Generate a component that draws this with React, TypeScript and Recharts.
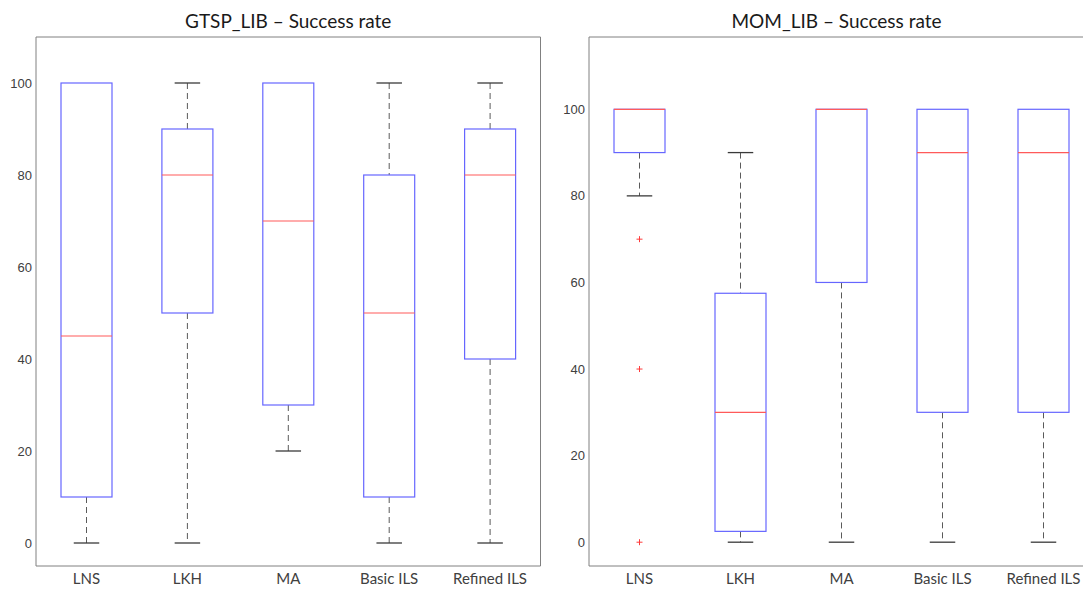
import React from "react";
import { ComposedChart, Bar, Scatter, XAxis, YAxis } from "recharts";

const algorithms = ["LNS", "LKH", "MA", "Basic ILS", "Refined ILS"];
const yTicks = [0, 20, 40, 60, 80, 100];

// GTSP_LIB success rate (%)
const gtspMin = [0, 0, 20, 0, 0];
const gtspQ1 = [10, 50, 30, 10, 40];
const gtspMedian = [45, 80, 70, 50, 80];
const gtspQ3 = [100, 90, 100, 80, 90];
const gtspMax = [100, 100, 100, 100, 100];
const gtspOutliers: number[][] = [[], [], [], [], []];

// MOM_LIB success rate (%)
const momMin = [80, 0, 0, 0, 0];
const momQ1 = [90, 2.5, 60, 30, 30];
const momMedian = [100, 30, 100, 90, 90];
const momQ3 = [100, 57.5, 100, 100, 100];
const momMax = [100, 90, 100, 100, 100];
const momOutliers: number[][] = [[70, 40, 0], [], [], [], []];

const outlierKeys = ["out0", "out1", "out2"];

const buildRows = (
  mins: number[],
  q1s: number[],
  medians: number[],
  q3s: number[],
  maxs: number[],
  outliers: number[][]
) =>
  algorithms.map((name, i) => {
    const row: any = {
      name,
      min: mins[i],
      q1: q1s[i],
      median: medians[i],
      q3: q3s[i],
      max: maxs[i],
    };
    outlierKeys.forEach((k, j) => {
      row[k] = outliers[i][j] ?? null;
    });
    return row;
  });

const gtspRows = buildRows(gtspMin, gtspQ1, gtspMedian, gtspQ3, gtspMax, gtspOutliers);
const momRows = buildRows(momMin, momQ1, momMedian, momQ3, momMax, momOutliers);

const BOX = "#6666ff";
const MEDIAN = "#ff5a5a";
const WHISKER = "#5a5a5a";
const FRAME = "#808080";

const BoxShape = (props: any) => {
  const { x, y, width, height, payload } = props;
  if (!payload || height == null) return <g />;
  const { min, q1, median, q3, max } = payload;
  const py = (v: number) => y + (height * (max - v)) / (max - min);
  const cx = x + width / 2;
  const cap = width / 4;
  return (
    <g>
      {max > q3 && (
        <>
          <line x1={cx} x2={cx} y1={py(max)} y2={py(q3)} stroke={WHISKER} strokeDasharray="6 4" />
          <line x1={cx - cap} x2={cx + cap} y1={py(max)} y2={py(max)} stroke="#3a3a3a" strokeWidth={1.3} />
        </>
      )}
      {min < q1 && (
        <>
          <line x1={cx} x2={cx} y1={py(q1)} y2={py(min)} stroke={WHISKER} strokeDasharray="6 4" />
          <line x1={cx - cap} x2={cx + cap} y1={py(min)} y2={py(min)} stroke="#3a3a3a" strokeWidth={1.3} />
        </>
      )}
      <rect x={x} y={py(q3)} width={width} height={py(q1) - py(q3)} fill="none" stroke={BOX} strokeWidth={1.2} />
      <line x1={x} x2={x + width} y1={py(median)} y2={py(median)} stroke={MEDIAN} strokeWidth={1.2} />
    </g>
  );
};

const PlusShape = (props: any) => {
  const { cx, cy } = props;
  if (cx == null || cy == null || isNaN(cy)) return <g />;
  return (
    <g stroke="#ff3b3b" strokeWidth={1}>
      <line x1={cx - 3} x2={cx + 3} y1={cy} y2={cy} />
      <line x1={cx} x2={cx} y1={cy - 3} y2={cy + 3} />
    </g>
  );
};

type PanelProps = {
  title: string;
  rows: any[];
  left: number;
  width: number;
  yAxisWidth: number;
  marginRight: number;
  domain: [number, number];
  titleShift?: number;
};

const BoxPanel = ({ title, rows, left, width, yAxisWidth, marginRight, domain, titleShift = 0 }: PanelProps) => {
  const plotLeft = yAxisWidth;
  const plotRight = width - marginRight;
  return (
    <div style={{ position: "absolute", left, top: 0, width, height: 590 }}>
      <div
        style={{
          position: "absolute",
          left: plotLeft + titleShift,
          width: plotRight - plotLeft,
          top: 9,
          textAlign: "center",
          fontFamily: "Lato",
          fontSize: 19,
          color: "#1a1a1a",
          lineHeight: "24px",
          whiteSpace: "nowrap",
        }}
      >
        {title}
      </div>
      <ComposedChart
        width={width}
        height={590}
        data={rows}
        margin={{ top: 37, right: marginRight, bottom: 0, left: 0 }}
      >
        <XAxis
          xAxisId="main"
          dataKey="name"
          height={24}
          axisLine={{ stroke: FRAME }}
          tickLine={false}
          tickSize={6}
          tickMargin={1}
          tick={{ fontFamily: "Lato", fontSize: 15, fill: "#404040" }}
          interval={0}
        />
        <XAxis xAxisId="bottomTicks" dataKey="name" mirror height={5} tick={false} axisLine={false} tickSize={5} tickLine={{ stroke: FRAME }} interval={0} />
        <XAxis xAxisId="top" dataKey="name" orientation="top" mirror height={5} tick={false} axisLine={{ stroke: FRAME }} tickSize={5} tickLine={{ stroke: FRAME }} interval={0} />
        <YAxis
          yAxisId="main"
          type="number"
          domain={domain}
          ticks={yTicks}
          allowDataOverflow
          width={yAxisWidth}
          axisLine={{ stroke: FRAME }}
          tickLine={false}
          tickSize={2}
          tickMargin={2}
          tick={{ fontFamily: "Liberation Sans", fontSize: 13, fill: "#404040" }}
        />
        <YAxis yAxisId="leftTicks" type="number" domain={domain} ticks={yTicks} allowDataOverflow mirror width={5} tick={false} axisLine={false} tickSize={5} tickLine={{ stroke: FRAME }} />
        <YAxis yAxisId="right" orientation="right" type="number" domain={domain} ticks={yTicks} allowDataOverflow mirror width={5} tick={false} axisLine={{ stroke: FRAME }} tickSize={5} tickLine={{ stroke: FRAME }} />
        <Bar
          xAxisId="main"
          yAxisId="main"
          dataKey={(d: any) => [d.min, d.max]}
          barSize={51}
          shape={BoxShape}
          isAnimationActive={false}
        />
        {outlierKeys.map((k) => (
          <Scatter key={k} xAxisId="main" yAxisId="main" dataKey={k} shape={PlusShape} isAnimationActive={false} />
        ))}
      </ComposedChart>
    </div>
  );
};

export default function App() {
  return (
    <div style={{ position: "fixed", left: 0, top: 0, width: 1083, height: 590, overflow: "hidden", background: "#fff" }}>
      <BoxPanel title="GTSP_LIB – Success rate" rows={gtspRows} left={0} width={545} yAxisWidth={36} marginRight={4.5} domain={[-5, 110]} />
      <BoxPanel title="MOM_LIB – Success rate" rows={momRows} left={545} width={549} yAxisWidth={44} marginRight={0} domain={[-5.5, 116.7]} titleShift={-5} />
    </div>
  );
}
